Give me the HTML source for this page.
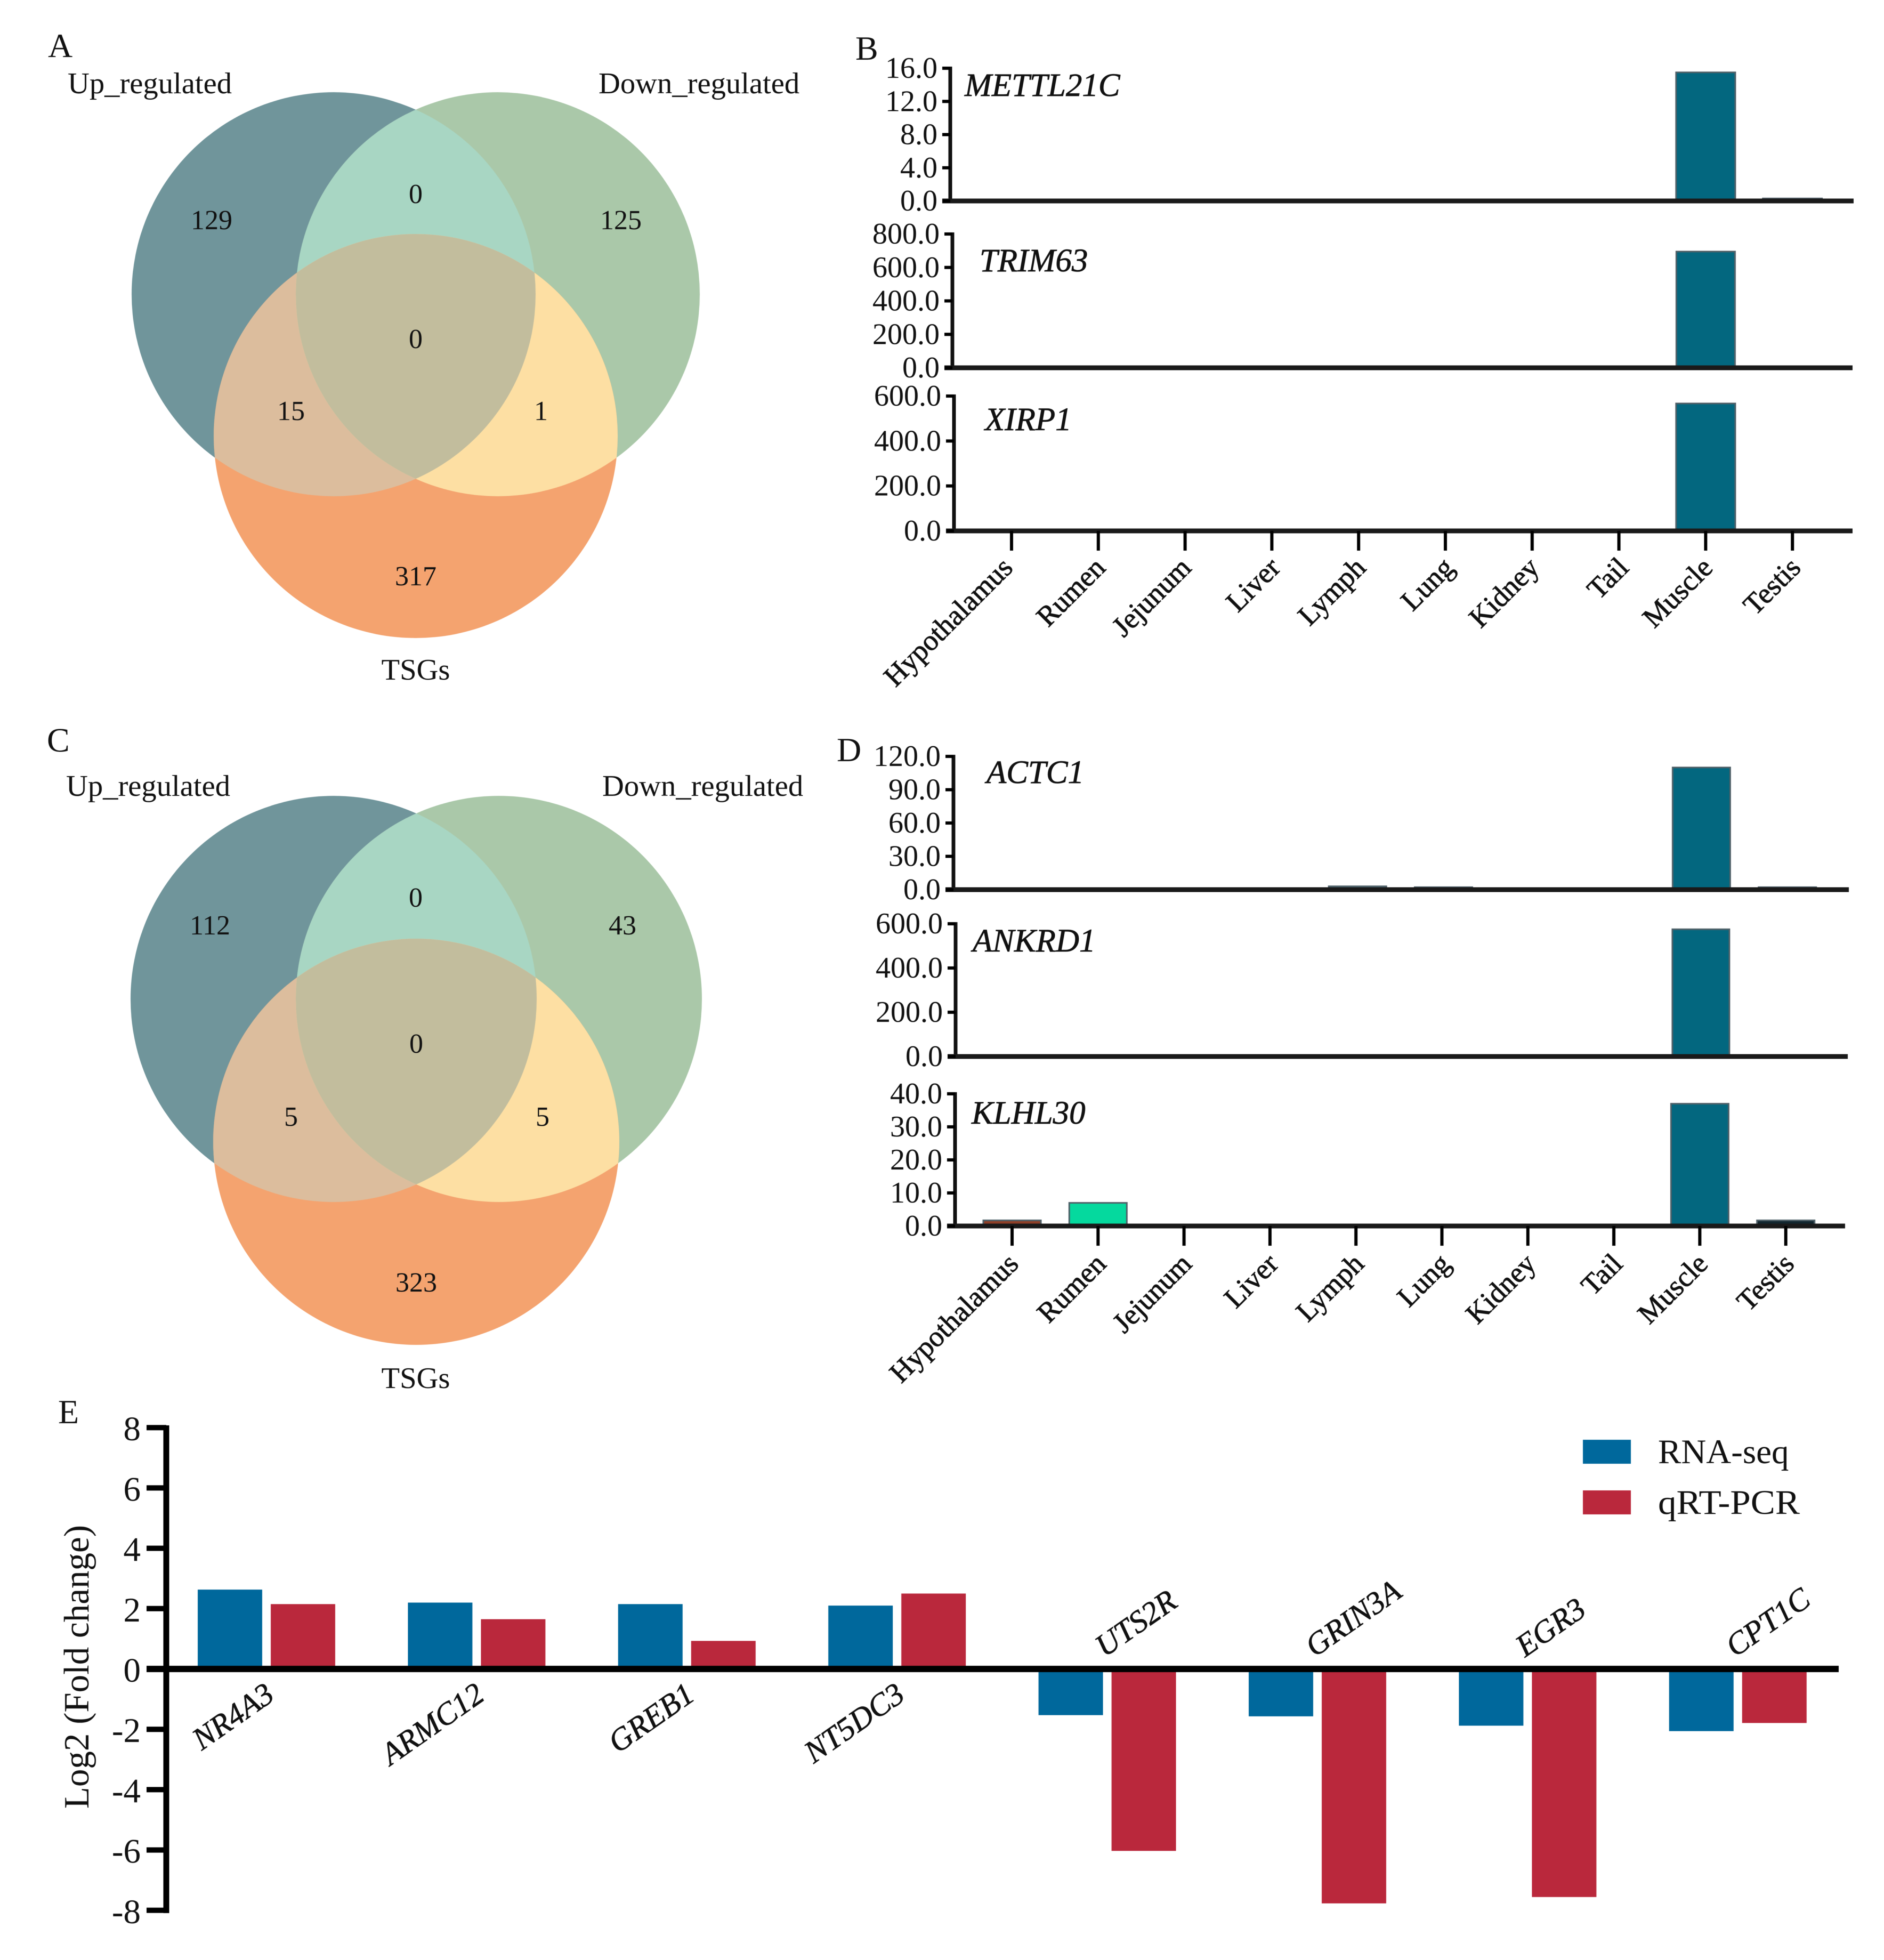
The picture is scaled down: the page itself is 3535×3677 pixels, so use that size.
<!DOCTYPE html>
<html lang="en">
<head>
<meta charset="utf-8">
<title>Venn diagrams and tissue expression charts</title>
<style>
html,body{margin:0;padding:0;background:#fff;}
svg{display:block;filter:blur(0.9px);}
text{font-family:"Liberation Serif",serif;fill:#111;}
.venn-t{font-size:56.6px;}
.venn-n{font-size:52px;text-anchor:middle;}
.panel{font-size:64px;}
</style>
</head>
<body>
<svg id="fig" xmlns="http://www.w3.org/2000/svg" width="3535" height="3677" viewBox="0 0 3535 3677">
<defs>
<clipPath id="a-l"><circle cx="626" cy="552" r="379"/></clipPath>
<clipPath id="a-r"><circle cx="934" cy="552" r="379"/></clipPath>
<clipPath id="c-l"><circle cx="626" cy="1874" r="381"/></clipPath>
<clipPath id="c-r"><circle cx="936" cy="1874" r="381"/></clipPath>
</defs>
<rect width="3535" height="3677" fill="#fff"/>

<g>
<circle cx="626" cy="552" r="379" fill="#70959b"/>
<circle cx="934" cy="552" r="379" fill="#aac8a9"/>
<circle cx="780" cy="818" r="379" fill="#f4a36f"/>
<g clip-path="url(#a-l)"><circle cx="934" cy="552" r="379" fill="#a8d6c3"/></g>
<g clip-path="url(#a-l)"><circle cx="780" cy="818" r="379" fill="#dcbd9d"/></g>
<g clip-path="url(#a-r)"><circle cx="780" cy="818" r="379" fill="#fddfa3"/></g>
<g clip-path="url(#a-l)"><g clip-path="url(#a-r)"><circle cx="780" cy="818" r="379" fill="#c2bd9d"/></g></g>
<text class="panel" x="90" y="107">A</text>
<text class="venn-t" x="127" y="175">Up_regulated</text>
<text class="venn-t" x="1123" y="175">Down_regulated</text>
<text class="venn-t" x="780" y="1275" text-anchor="middle">TSGs</text>
<text class="venn-n" x="780" y="381">0</text>
<text class="venn-n" x="397" y="430">129</text>
<text class="venn-n" x="1165" y="430">125</text>
<text class="venn-n" x="780" y="653">0</text>
<text class="venn-n" x="546" y="788">15</text>
<text class="venn-n" x="1015" y="788">1</text>
<text class="venn-n" x="780" y="1098">317</text>
</g>

<g>
<circle cx="626" cy="1874" r="381" fill="#70959b"/>
<circle cx="936" cy="1874" r="381" fill="#aac8a9"/>
<circle cx="781" cy="2142" r="381" fill="#f4a36f"/>
<g clip-path="url(#c-l)"><circle cx="936" cy="1874" r="381" fill="#a8d6c3"/></g>
<g clip-path="url(#c-l)"><circle cx="781" cy="2142" r="381" fill="#dcbd9d"/></g>
<g clip-path="url(#c-r)"><circle cx="781" cy="2142" r="381" fill="#fddfa3"/></g>
<g clip-path="url(#c-l)"><g clip-path="url(#c-r)"><circle cx="781" cy="2142" r="381" fill="#c2bd9d"/></g></g>
<text class="panel" x="88" y="1410">C</text>
<text class="venn-t" x="124" y="1493">Up_regulated</text>
<text class="venn-t" x="1130" y="1493">Down_regulated</text>
<text class="venn-t" x="780" y="2604" text-anchor="middle">TSGs</text>
<text class="venn-n" x="780" y="1701">0</text>
<text class="venn-n" x="394" y="1753">112</text>
<text class="venn-n" x="1168" y="1753">43</text>
<text class="venn-n" x="781" y="1975">0</text>
<text class="venn-n" x="546" y="2112">5</text>
<text class="venn-n" x="1018" y="2112">5</text>
<text class="venn-n" x="781" y="2423">323</text>
</g>

<text class="panel" x="1605" y="112">B</text>
<text class="panel" x="1570" y="1428">D</text>
<text class="panel" x="109" y="2670">E</text>
<g id="charts"></g>
</svg>

<script>
// ---- Tissue panels: categories and values ----
const tissues = ['Hypothalamus','Rumen','Jejunum','Liver','Lymph','Lung','Kidney','Tail','Muscle','Testis'];
const mettl21c = [0,0,0,0,0,0,0,0,15.5,0.3];
const trim63   = [0,0,0,0,0,0,0,0,695,0];
const xirp1    = [0,0,0,0,0,0,0,0,567,0];
const actc1    = [0,0,0,0,3,2.2,0,0,110,2.2];
const ankrd1   = [0,0,0,0,0,0,0,0,575,0];
const klhl30   = [1.7,7,0,0,0,0,0,0,37,1.7];
const mettl21cTicks = [0,4,8,12,16];
const trim63Ticks   = [0,200,400,600,800];
const xirp1Ticks    = [0,200,400,600];
const actc1Ticks    = [0,30,60,90,120];
const ankrd1Ticks   = [0,200,400,600];
const klhl30Ticks   = [0,10,20,30,40];

// ---- Panel E: categories and values ----
const genesE = ['NR4A3','ARMC12','GREB1','NT5DC3','UTS2R','GRIN3A','EGR3','CPT1C'];
const rnaSeq = [2.63,2.2,2.15,2.1,-1.53,-1.57,-1.88,-2.06];
const qrtPcr = [2.15,1.65,0.93,2.5,-6.03,-7.77,-7.56,-1.79];
const foldTicks = [-8,-6,-4,-2,0,2,4,6,8];

const NS = 'http://www.w3.org/2000/svg';
const root = document.getElementById('charts');
const tissueColor = {Hypothalamus:'#8f3f28',Rumen:'#05d99e',Lymph:'#3f7f8f',Lung:'#1d2a30',Muscle:'#03677f',Testis:'#12262f'};

function node(parent, tag, attrs){
  const el = document.createElementNS(NS, tag);
  for (const k in attrs) el.setAttribute(k, attrs[k]);
  parent.appendChild(el);
  return el;
}

function tissueChart(parent, gene, values, ticks, box){
  const g = node(parent, 'g', {});
  
  
  const maxV = ticks[ticks.length - 1];
  const yScale = v => box.y0 - (v / maxV) * (box.y0 - box.yTop);
  const xScale = i => box.x0 + i * box.step;

  values.forEach((v, i) => {
    if (v <= 0) return;
    const top = yScale(v);
    const bar = node(g, 'rect', {x: xScale(i) - box.barW / 2, y: top, width: box.barW, height: box.y0 - top,
      fill: tissueColor[tissues[i]] || '#03677f', stroke: '#4f6068', 'stroke-width': 3});
    
    
  });

  const yAxis = node(g, 'line', {x1: box.axisX, x2: box.axisX, y1: yScale(maxV) - 3, y2: box.y0 + 3, stroke: '#111', 'stroke-width': 7});
  
  
  const xAxis = node(g, 'line', {x1: box.axisX - 15, x2: box.xEnd, y1: box.y0, y2: box.y0, stroke: '#1a1a1a', 'stroke-width': 9});
  
  

  ticks.forEach(t => {
    const y = yScale(t);
    const tk = node(g, 'line', {x1: box.axisX - 15, x2: box.axisX, y1: y, y2: y, stroke: '#000', 'stroke-width': 6});
    
    
    const lb = node(g, 'text', {x: box.axisX - 24, y: y + 18, 'text-anchor': 'end', 'font-size': 56});
    lb.textContent = t.toFixed(1);
    
    
  });

  const title = node(g, 'text', {x: box.titleX, y: box.titleY, 'font-size': 61, 'font-style': 'italic', stroke: '#111', 'stroke-width': 0.8});
  title.textContent = gene;
  
  

  if (box.showX) {
    tissues.forEach((name, i) => {
      const x = xScale(i);
      const tk = node(g, 'line', {x1: x, x2: x, y1: box.y0, y2: box.y0 + 37, stroke: '#000', 'stroke-width': 6});
      
      
      const ly = box.y0 + box.labelDy;
      const lb = node(g, 'text', {x: x, y: ly, 'text-anchor': 'end', 'font-size': 54, stroke: '#111', 'stroke-width': 0.9});
      lb.textContent = name;
      
      
      const lx = x + box.labelDx - box.labelSlope * lb.getComputedTextLength();
      lb.setAttribute('x', lx);
      lb.setAttribute('transform', 'rotate(-45 ' + lx + ' ' + ly + ')');
    });
  }
}

tissueChart(root, 'METTL21C', mettl21c, mettl21cTicks, {axisX:1783,xEnd:3478,y0:377,yTop:128,x0:1898,step:162.8,barW:111,titleX:1810,titleY:180});
tissueChart(root, 'TRIM63',   trim63,   trim63Ticks,   {axisX:1787,xEnd:3476,y0:690,yTop:439,x0:1898,step:162.8,barW:110,titleX:1838,titleY:509});
tissueChart(root, 'XIRP1',    xirp1,    xirp1Ticks,    {axisX:1790,xEnd:3476,y0:996,yTop:743,x0:1898,step:162.8,barW:111,titleX:1848,titleY:807,showX:true,labelDx:27,labelSlope:0.07,labelDy:72});
tissueChart(root, 'ACTC1',    actc1,    actc1Ticks,    {axisX:1789,xEnd:3469,y0:1669,yTop:1419,x0:1902,step:161.3,barW:108,titleX:1851,titleY:1469});
tissueChart(root, 'ANKRD1',   ankrd1,   ankrd1Ticks,   {axisX:1793,xEnd:3467,y0:1982,yTop:1733,x0:1901,step:161.3,barW:107,titleX:1825,titleY:1785});
tissueChart(root, 'KLHL30',   klhl30,   klhl30Ticks,   {axisX:1792,xEnd:3462,y0:2300,yTop:2052,x0:1899,step:161.3,barW:108,titleX:1823,titleY:2108,showX:true,labelDx:21,labelSlope:0.02,labelDy:74});

// ---- Panel E ----
const e = node(root, 'g', {});


const eY = v => 3131 - v * 56.6;
const eX = i => 371 + i * 394.4;
const eBarW = 121, eRedOffset = 137;

genesE.forEach((gene, i) => {
  const y1 = eY(rnaSeq[i]);
  const b = node(e, 'rect', {x: eX(i), y: Math.min(y1, eY(0)), width: eBarW, height: Math.abs(y1 - eY(0)), fill: '#00689c'});
  
  
  const y2 = eY(qrtPcr[i]);
  const r = node(e, 'rect', {x: eX(i) + eRedOffset, y: Math.min(y2, eY(0)), width: eBarW, height: Math.abs(y2 - eY(0)), fill: '#ba283c'});
  
  
  const below = rnaSeq[i] > 0;
  const lx = eX(i) + (below ? 147 : 124);
  const ly = below ? 3187 : 3110;
  const t = node(e, 'text', {x: lx, y: ly, 'text-anchor': below ? 'end' : 'start', 'font-size': 59, 'font-style': 'italic',
    stroke: '#111', 'stroke-width': 0.7, transform: 'rotate(-35 ' + lx + ' ' + ly + ')'});
  t.textContent = gene;
  
  
});

const eAxisY = node(e, 'line', {x1: 312, x2: 312, y1: 2674, y2: 3589, stroke: '#000', 'stroke-width': 11});


const eAxisX = node(e, 'line', {x1: 275, x2: 3450, y1: eY(0), y2: eY(0), stroke: '#000', 'stroke-width': 12});



foldTicks.forEach(t => {
  const y = eY(t);
  const tk = node(e, 'line', {x1: 275, x2: 312, y1: y, y2: y, stroke: '#000', 'stroke-width': 10});
  
  
  const lb = node(e, 'text', {x: 264, y: y + 24, 'text-anchor': 'end', 'font-size': 65});
  lb.textContent = String(t);
  
  
});

const eTitle = node(e, 'text', {x: 166, y: 3127, 'text-anchor': 'middle', 'font-size': 67, transform: 'rotate(-90 166 3127)'});
eTitle.textContent = 'Log2 (Fold change)';



const legendItems = ['RNA-seq','qRT-PCR'];
legendItems.forEach((name, i) => {
  const swatch = node(e, 'rect', {x: 2970, y: 2701 + i * 95, width: 90, height: 45, fill: i ? '#ba283c' : '#00689c'});
  
  
  const lb = node(e, 'text', {x: 3111, y: 2745 + i * 95, 'font-size': 65});
  lb.textContent = name;
  if (i === 1) { lb.setAttribute('textLength', 266); lb.setAttribute('lengthAdjust', 'spacingAndGlyphs'); }
  
  
});
</script>
</body>
</html>
